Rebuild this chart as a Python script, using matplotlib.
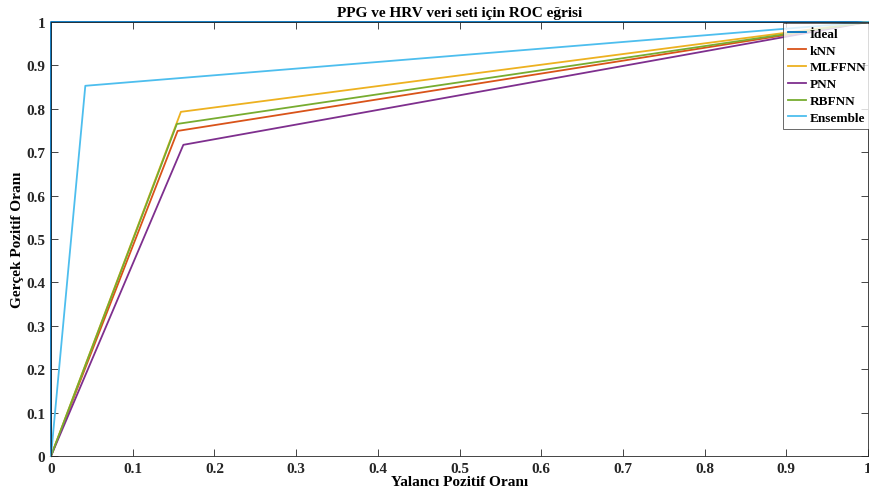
import matplotlib.pyplot as plt

# ROC noktalari (FPR, TPR)
ideal_fpr = [0, 0, 1]
ideal_tpr = [0, 1, 1]
knn_fpr = [0, 0.155, 1]
knn_tpr = [0, 0.749, 1]
mlffnn_fpr = [0, 0.159, 1]
mlffnn_tpr = [0, 0.793, 1]
pnn_fpr = [0, 0.162, 1]
pnn_tpr = [0, 0.717, 1]
rbfnn_fpr = [0, 0.154, 1]
rbfnn_tpr = [0, 0.765, 1]
ens_fpr = [0, 0.042, 1]
ens_tpr = [0, 0.853, 1]

labels = ['İdeal', 'kNN', 'MLFFNN', 'PNN', 'RBFNN', 'Ensemble']
colors = ['#0072BD', '#D95319', '#EDB120', '#7E2F8E', '#77AC30', '#4DBEEE']

plt.rcParams['font.family'] = ['Liberation Serif', 'DejaVu Serif']
plt.rcParams['font.weight'] = 'bold'

fig = plt.figure(figsize=(8.69, 5.02), dpi=100)
ax = fig.add_axes([51 / 869, 45 / 502, 817 / 869, 434 / 502])

series = [(ideal_fpr, ideal_tpr), (knn_fpr, knn_tpr), (mlffnn_fpr, mlffnn_tpr),
          (pnn_fpr, pnn_tpr), (rbfnn_fpr, rbfnn_tpr), (ens_fpr, ens_tpr)]
for (x, y), lab, c in zip(series, labels, colors):
    ax.plot(x, y, color=c, lw=1.3, label=lab, clip_on=False)

ax.set_xlim(0, 1)
ax.set_ylim(0, 1)
ax.set_xticks([i / 10 for i in range(11)])
ax.set_yticks([i / 10 for i in range(11)])
ax.set_xticklabels(['0', '0.1', '0.2', '0.3', '0.4', '0.5', '0.6', '0.7', '0.8', '0.9', '1'])
ax.set_yticklabels(['0', '0.1', '0.2', '0.3', '0.4', '0.5', '0.6', '0.7', '0.8', '0.9', '1'])
ax.tick_params(direction='in', top=True, right=True, length=5, width=0.6,
               colors='#262626', labelsize=11, pad=4)
for s in ax.spines.values():
    s.set_color('#262626')
    s.set_linewidth(0.6)

ax.set_title('PPG ve HRV veri seti için ROC eğrisi', fontsize=11, fontweight='bold', pad=4)
ax.set_xlabel('Yalancı Pozitif Oranı', fontsize=11, fontweight='bold', labelpad=0)
ax.set_ylabel('Gerçek Pozitif Oranı', fontsize=11, fontweight='bold', labelpad=2)

leg = ax.legend(loc='upper left', bbox_to_anchor=(0.896, 0.998), fontsize=9.5,
                frameon=True, fancybox=False, handlelength=1.4, handletextpad=0.3,
                borderpad=0.35, labelspacing=0.35, borderaxespad=0.0)
leg.get_frame().set_edgecolor('#262626')
leg.get_frame().set_linewidth(0.6)
leg.set_clip_on(False)

fig.savefig('out.png', dpi=100)
